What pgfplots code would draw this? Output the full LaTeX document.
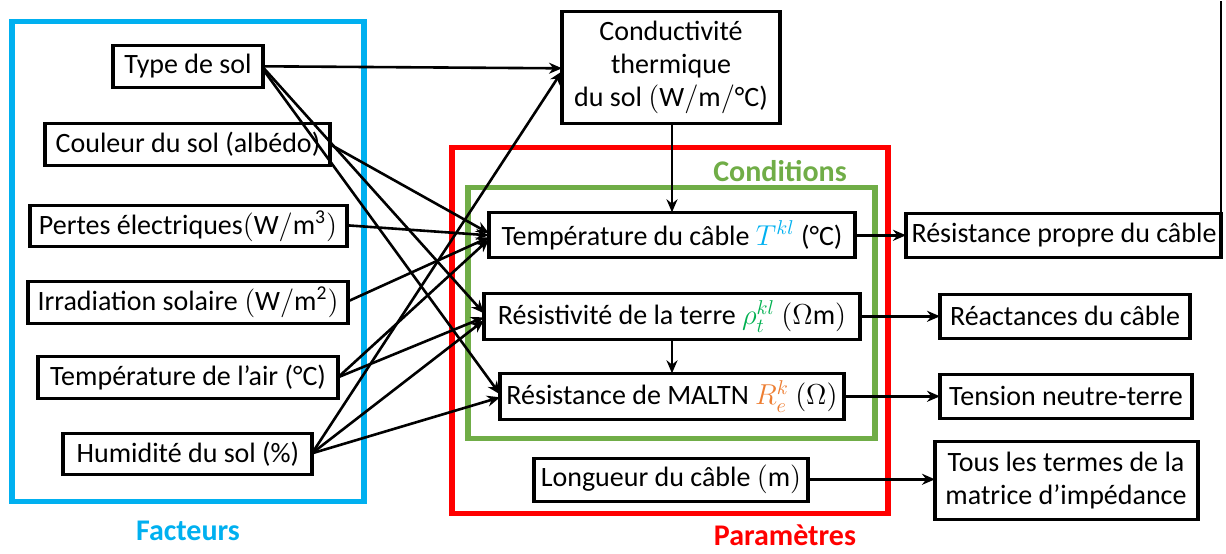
\documentclass[border=0pt]{standalone}
\usepackage{fontspec}
\setmainfont{Carlito}
\usepackage{pgfplots}
\pgfplotsset{compat=1.18}
\usetikzlibrary{arrows.meta}

\definecolor{cblue}{HTML}{00B0F0}
\definecolor{cred}{HTML}{FF0000}
\definecolor{cgreen}{HTML}{70AD47}
\definecolor{rhogreen}{HTML}{00B050}
\definecolor{corange}{HTML}{ED7D31}

\tikzset{
  txt/.style={font=\fontsize{14}{16.5}\selectfont, inner sep=0pt},
  ttl/.style={font=\fontsize{15}{18}\selectfont\bfseries, inner sep=0pt}}

% rectangle from (x1,y1) to (x2,y2), pixel units, y downwards
\newcommand{\rect}[6]{\addplot[draw=#1, line width=#2, line join=miter] coordinates {(#3,#4) (#5,#4) (#5,#6) (#3,#6)} -- cycle;}
\newcommand{\arr}[4]{\addplot[black, line width=1.3pt, -{Stealth[length=6.5pt,width=5.5pt]}] coordinates {(#1,#2) (#3,#4)};}

\begin{document}
\begin{tikzpicture}
\begin{axis}[
    width=613pt, height=276pt, scale only axis,
    xmin=0, xmax=1226, ymin=0, ymax=552, y dir=reverse,
    hide axis, clip=false, no markers]

  % keep the whole canvas in the bounding box
  \addplot[draw=none] coordinates {(0,0) (1226,552)};

  % group frames
  \rect{cblue}{2.6pt}{12}{20}{364}{500}
  \rect{cred}{2.6pt}{452}{146}{888}{512}
  \rect{cgreen}{2.6pt}{468}{186}{875}{437}

  % arrows
  \arr{263}{65}{562}{67}
  \arr{263}{66}{484}{312}
  \arr{263}{68}{500}{393}
  \arr{330}{143}{489}{232}
  \arr{347}{224}{489}{234}
  \arr{348}{300}{489}{236}
  \arr{338}{376}{489}{238}
  \arr{338}{376}{484}{316}
  \arr{312}{452}{562}{70}
  \arr{312}{452}{484}{319}
  \arr{312}{452}{500}{396}
  \arr{672}{122}{672}{211}
  \arr{672}{338}{672}{372}
  \arr{855}{234}{906}{234}
  \arr{860}{315}{940}{315}
  \arr{844}{395}{940}{395}
  \arr{808}{478}{935}{478}
  \addplot[black, line width=1.3pt] coordinates {(1221,0) (1221,212)};

  % boxes
  \rect{black}{1.6pt}{113}{44}{263}{86}
  \rect{black}{1.6pt}{45}{122}{330}{164}
  \rect{black}{1.6pt}{30}{204}{347}{245}
  \rect{black}{1.6pt}{28}{280}{348}{322}
  \rect{black}{1.6pt}{38}{355}{338}{397}
  \rect{black}{1.6pt}{63}{432}{312}{473}
  \rect{black}{1.6pt}{562}{10}{780}{122}
  \rect{black}{1.6pt}{489}{211}{855}{256}
  \rect{black}{1.6pt}{484}{292}{860}{338}
  \rect{black}{1.6pt}{500}{372}{844}{418}
  \rect{black}{1.6pt}{534}{457}{808}{500}
  \rect{black}{1.6pt}{906}{212}{1221}{256}
  \rect{black}{1.6pt}{940}{293}{1190}{337}
  \rect{black}{1.6pt}{940}{373}{1192}{417}
  \rect{black}{1.6pt}{935}{440}{1198}{518}

  % texts
  \node[txt] at (axis cs:188,65) {Type de sol};
  \node[txt] at (axis cs:188,143) {Couleur du sol (albédo)};
  \node[txt] at (axis cs:188,225) {Pertes électriques$(\mathrm{W/m^3})$};
  \node[txt] at (axis cs:188,301) {Irradiation solaire $(\mathrm{W/m^2})$};
  \node[txt] at (axis cs:188,376) {Température de l’air (°C)};
  \node[txt] at (axis cs:188,453) {Humidité du sol (\%)};
  \node[txt, align=center] at (axis cs:671,66) {Conductivité\\thermique\\du sol $(\mathrm{W/m/}$°C)};
  \node[txt] at (axis cs:672,234) {Température du câble $\textcolor{cblue}{T^{kl}}$ (°C)};
  \node[txt] at (axis cs:672,315) {Résistivité de la terre $\textcolor{rhogreen}{\rho_t^{kl}}$ $(\Omega\mathrm{m})$};
  \node[txt] at (axis cs:672,395) {Résistance de MALTN $\textcolor{corange}{R_e^k}$ $(\Omega)$};
  \node[txt] at (axis cs:671,478) {Longueur du câble $(\mathrm{m})$};
  \node[txt] at (axis cs:1064,234) {Résistance propre du câble};
  \node[txt] at (axis cs:1065,315) {Réactances du câble};
  \node[txt] at (axis cs:1066,395) {Tension neutre-terre};
  \node[txt, align=center] at (axis cs:1066,479) {Tous les termes de la\\matrice d’impédance};

  \node[ttl, text=cblue] at (axis cs:188,530) {Facteurs};
  \node[ttl, text=cgreen] at (axis cs:780,170) {Conditions};
  \node[ttl, text=cred] at (axis cs:785,534) {Paramètres};
\end{axis}
\end{tikzpicture}
\end{document}
